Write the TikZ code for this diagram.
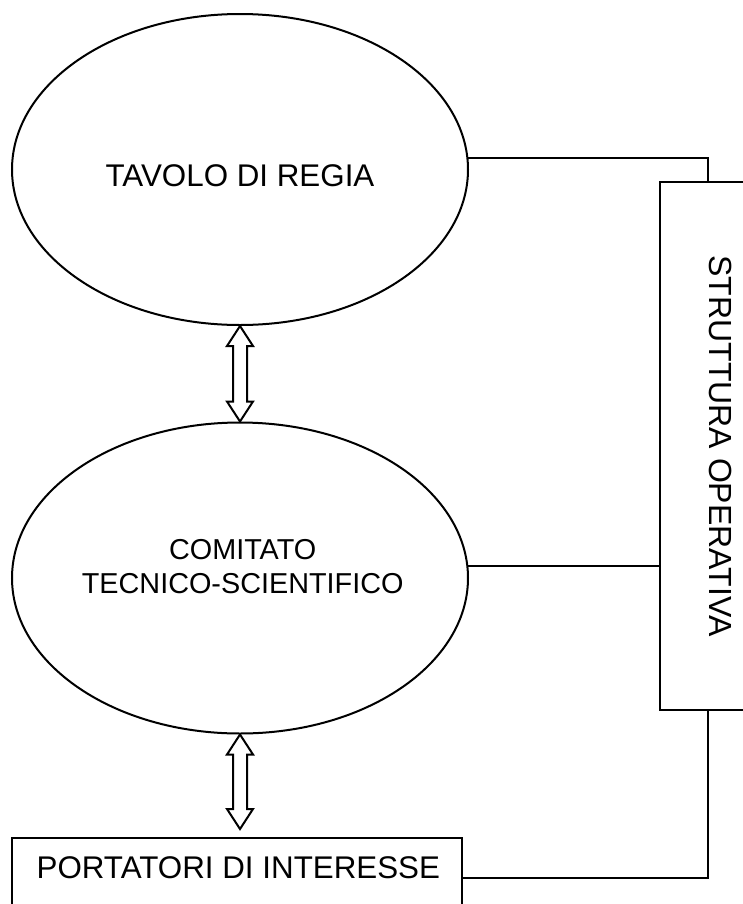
\documentclass[tikz,border=0pt]{standalone}
\usepackage{fontspec}
\setmainfont{Liberation Sans}
\usetikzlibrary{shapes.geometric}
\usetikzlibrary{calc}

% hollow two-headed arrow between two tips
\newcommand{\twoway}[2]{%
  \draw[line width=\lw] (#1) -- ++(-13,20) -- ++(6,0) -- ($(#2)+(-7,-20)$) -- ++(-6,0) -- (#2)
    -- ++(13,-20) -- ++(-6,0) -- ($(#1)+(7,20)$) -- ++(6,0) -- cycle;}

\begin{document}
\begin{tikzpicture}[x=0.75pt, y=-0.75pt,
  ellip/.style={draw, ellipse, inner sep=0pt, line width=\lw, minimum width=456*\u, minimum height=311*\u},
  box/.style={draw, rectangle, inner sep=0pt, line width=\lw}]
\def\u{0.75pt}
\def\lw{1.5pt}
\useasboundingbox (0,0) rectangle (743,904);
\node[ellip, label={[font=\fontsize{23.5}{28}\selectfont, yshift=-5pt]center:TAVOLO DI REGIA}] (tr) at (240,169.5) {};
\node[ellip, label={[font=\fontsize{21.6}{25.5}\selectfont, align=center, yshift=8.25pt, xshift=2pt]center:COMITATO\\TECNICO-SCIENTIFICO}] (cts) at (240,578) {};
\node[box, font=\fontsize{24}{28}\selectfont, rotate=-90, minimum width=528*\u, minimum height=122*\u] (so) at (721,446) {STRUTTURA OPERATIVA};
\node[box, minimum width=450*\u, minimum height=80*\u,
  label={[font=\fontsize{23.5}{28}\selectfont, xshift=1pt, yshift=8pt]center:PORTATORI DI INTERESSE}] (pi) at (237,878) {};
\coordinate (sotop) at ($(so.west)+(-13,0)$);
\coordinate (sobot) at ($(so.east)+(-13,0)$);
\coordinate (pitop) at ($(pi.north -| cts.south)+(0,-8)$);
\draw[line width=\lw] (tr.3) -| (sotop);
\draw[line width=\lw] (cts.3) -- (cts.3 -| so.south);
\draw[line width=\lw] (pi.east) -| (sobot);
\twoway{tr.south}{cts.north}
\twoway{cts.south}{pitop}
\end{tikzpicture}
\end{document}
